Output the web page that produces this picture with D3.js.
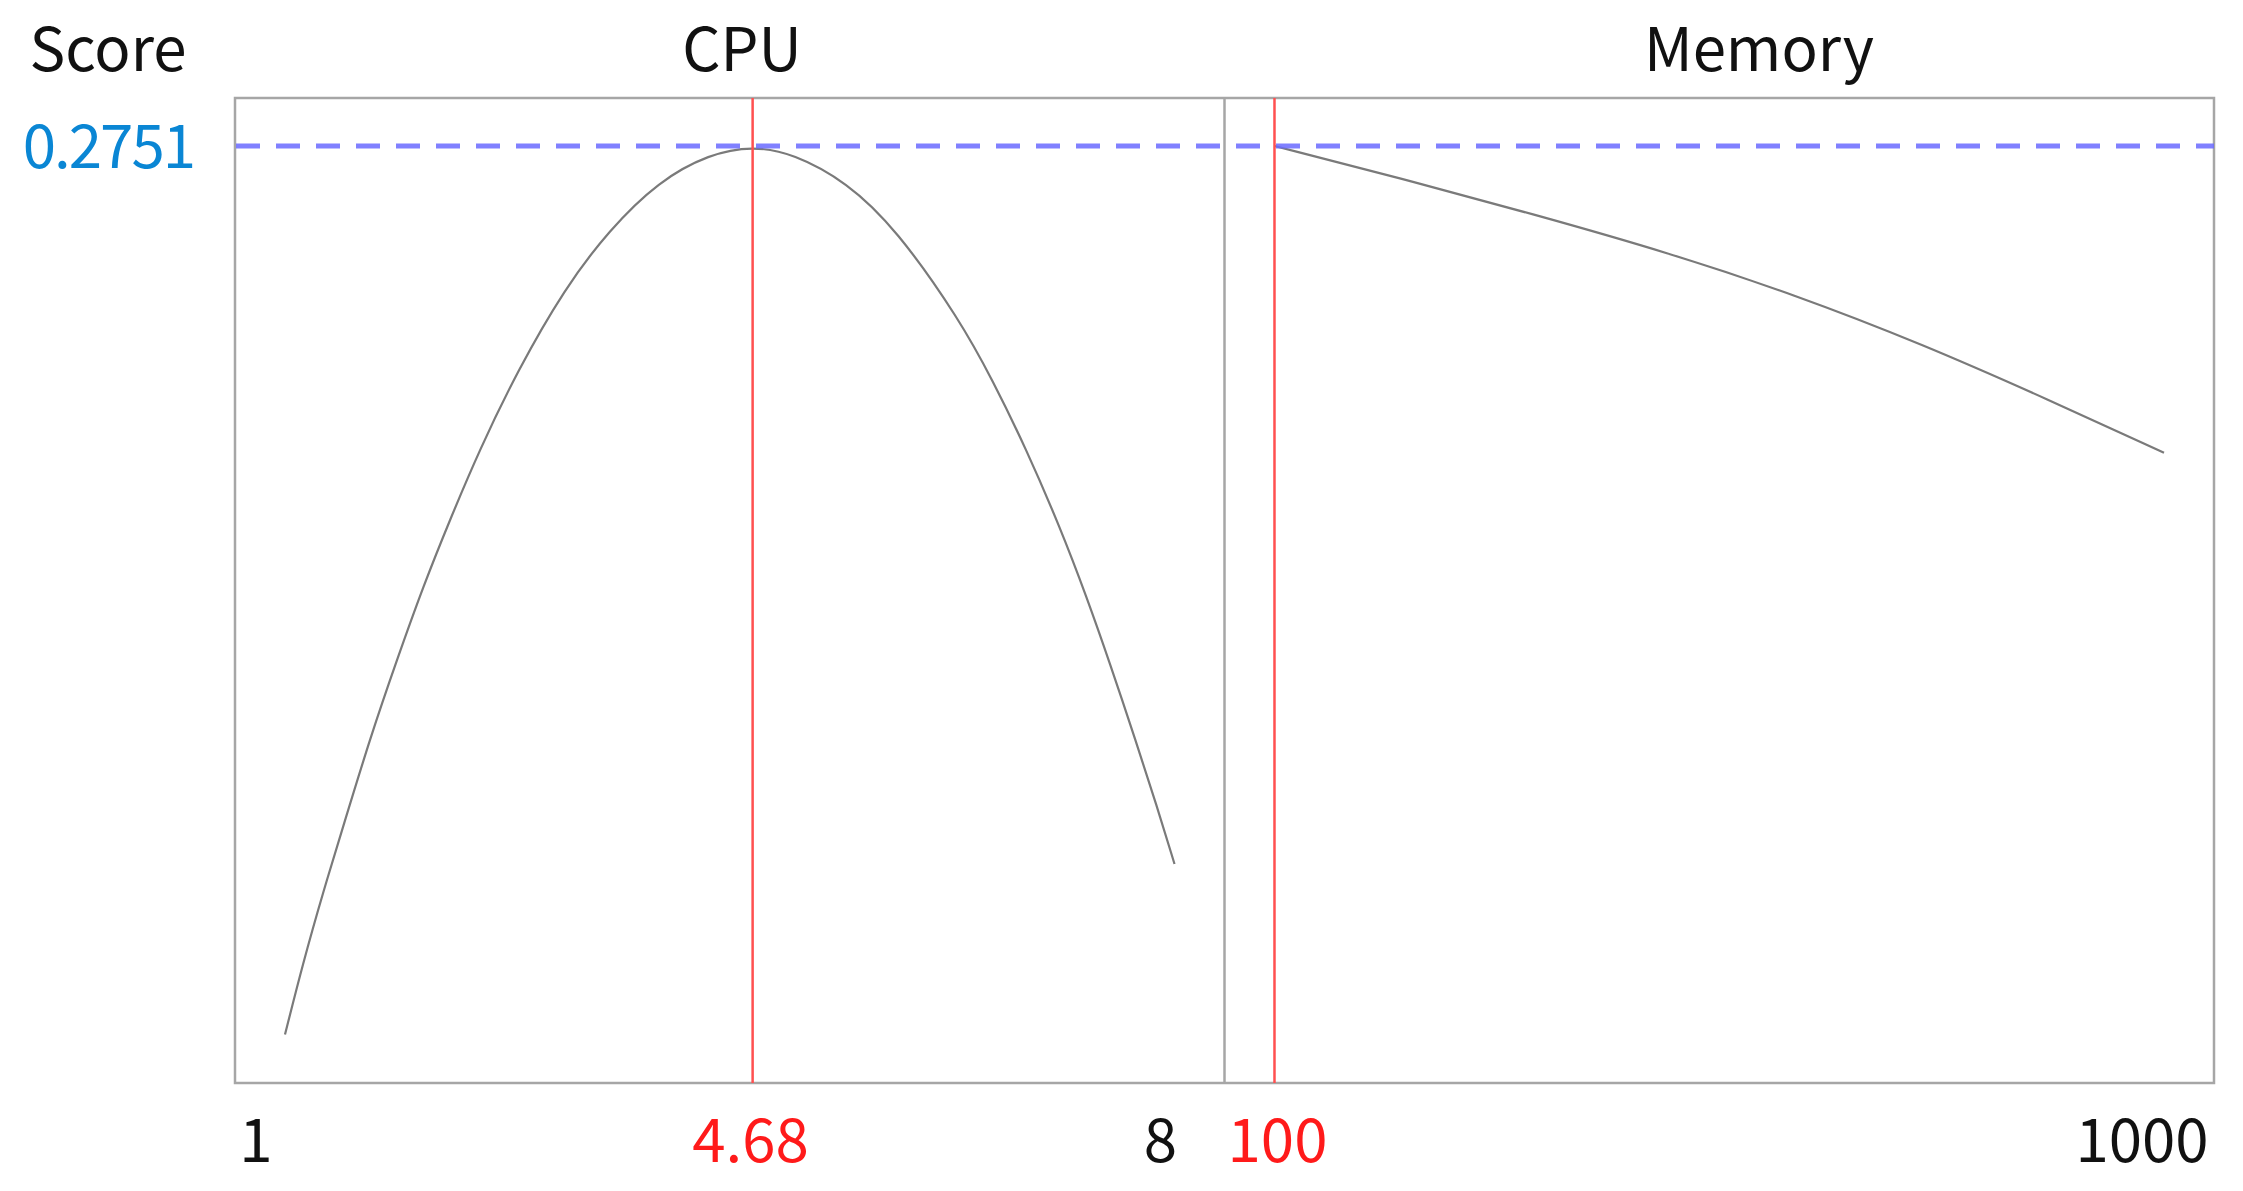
<!DOCTYPE html>
<html>
<head>
<meta charset="utf-8">
<script src="https://cdn.jsdelivr.net/npm/d3@7"></script>
<style>
  html, body { margin: 0; padding: 0; background: #ffffff; }
  svg { display: block; }
  text { font-family: "Noto Sans CJK KR", "Open Sans", sans-serif; }
</style>
</head>
<body>
<svg id="chart" width="2243" height="1191"></svg>
<script>
// ---- data ----
const responseName = "Score";
const optimalScore = 0.2751;
const scoreMin = 0.05;

const factorNames = ["CPU", "Memory"];
const factorLow = [1, 100];
const factorHigh = [8, 1000];
const factorCurrent = [4.68, 100];
const tickLabels = [["1", "4.68", "8"], ["100", "1000"]];

const cpuValues = [1.00, 1.14, 1.30, 1.46, 1.67, 1.88, 2.09, 2.30, 2.53, 2.83, 3.20, 3.55, 3.94, 4.34, 4.68,
                   5.00, 5.42, 5.81, 6.31, 6.57, 6.83, 7.10, 7.31, 7.49, 7.70, 7.86, 8.00];
const cpuScores = [0.0501, 0.0680, 0.0862, 0.1030, 0.1252, 0.1449, 0.1638, 0.1806, 0.1981, 0.2182, 0.2390, 0.2538, 0.2662, 0.2731, 0.2751,
                   0.2732, 0.2660, 0.2541, 0.2311, 0.2157, 0.1986, 0.1785, 0.1608, 0.1443, 0.1240, 0.1081, 0.0933];

const memValues = [100, 239, 368, 497, 626, 755, 884, 1000];
const memScores = [0.2751, 0.2662, 0.2574, 0.2482, 0.2375, 0.2250, 0.2108, 0.1974];

// ---- layout ----
const svg = d3.select("#chart");
const frame = { left: 235, right: 2214, top: 98, bottom: 1083 };
const panelW = (frame.right - frame.left) / 2;
const padX = 0.0562, padY = 0.054;

function padded(lo, hi, p) { const d = (hi - lo) * p; return [lo - d, hi + d]; }

const y = d3.scaleLinear()
  .domain(padded(scoreMin, optimalScore, padY))
  .range([frame.bottom, frame.top]);

const xScales = factorNames.map((f, i) => d3.scaleLinear()
  .domain(padded(factorLow[i], factorHigh[i], padX))
  .range([frame.left + i * panelW, frame.left + (i + 1) * panelW]));

const series = [
  cpuValues.map((v, i) => [v, cpuScores[i]]),
  memValues.map((v, i) => [v, memScores[i]])
];

const fontSize = 60;

// frame
svg.append("rect")
  .attr("x", frame.left).attr("y", frame.top)
  .attr("width", frame.right - frame.left).attr("height", frame.bottom - frame.top)
  .attr("fill", "#ffffff").attr("stroke", "#a6a6a6").attr("stroke-width", 2.5);

// divider
svg.append("line")
  .attr("x1", frame.left + panelW).attr("x2", frame.left + panelW)
  .attr("y1", frame.top).attr("y2", frame.bottom)
  .attr("stroke", "#a6a6a6").attr("stroke-width", 2.5);

// curves
series.forEach((s, i) => {
  const line = d3.line()
    .x(d => xScales[i](d[0]))
    .y(d => y(d[1]))
    .curve(d3.curveBasis);
  svg.append("path")
    .datum(s)
    .attr("d", line)
    .attr("fill", "none")
    .attr("stroke", "#7a7a7a")
    .attr("stroke-width", 2.2);
});

// red current-setting lines
factorCurrent.forEach((c, i) => {
  svg.append("line")
    .attr("x1", xScales[i](c)).attr("x2", xScales[i](c))
    .attr("y1", frame.top).attr("y2", frame.bottom)
    .attr("stroke", "#ff5050").attr("stroke-width", 2.5);
});

// dashed optimum line
svg.append("line")
  .attr("x1", frame.left + 1).attr("x2", frame.right)
  .attr("y1", y(optimalScore)).attr("y2", y(optimalScore))
  .attr("stroke", "#6a6aff").attr("stroke-opacity", 0.85)
  .attr("stroke-width", 5)
  .attr("stroke-dasharray", "24 16");

// headers
svg.append("text")
  .attr("x", 108).attr("y", 71)
  .attr("text-anchor", "middle")
  .attr("font-size", fontSize).attr("fill", "#111")
  .text(responseName);

const headerX = [742, 1759];
factorNames.forEach((f, i) => {
  svg.append("text")
    .attr("x", headerX[i]).attr("y", 71)
    .attr("text-anchor", "middle")
    .attr("font-size", fontSize).attr("fill", "#111")
    .text(f);
});

// optimal score label
svg.append("text")
  .attr("x", 194).attr("y", y(optimalScore) + 22)
  .attr("text-anchor", "end")
  .attr("letter-spacing", -2)
  .attr("font-size", fontSize).attr("fill", "#0a86d4")
  .text(d3.format(".4f")(optimalScore));

// bottom tick labels
const labelY = 1162;
const tickDefs = [
  { i: 0, v: factorLow[0], t: tickLabels[0][0], dx: -29, c: "#111" },
  { i: 0, v: factorCurrent[0], t: tickLabels[0][1], dx: -2, c: "#ff1a1a" },
  { i: 0, v: factorHigh[0], t: tickLabels[0][2], dx: -14, c: "#111" },
  { i: 1, v: factorCurrent[1], t: tickLabels[1][0], dx: 3, c: "#ff1a1a" },
  { i: 1, v: factorHigh[1], t: tickLabels[1][1], dx: -22, c: "#111" }
];
tickDefs.forEach(d => {
  svg.append("text")
    .attr("x", xScales[d.i](d.v) + d.dx).attr("y", labelY)
    .attr("text-anchor", "middle")
    .attr("font-size", fontSize).attr("fill", d.c)
    .text(d.t);
});
</script>
</body>
</html>
